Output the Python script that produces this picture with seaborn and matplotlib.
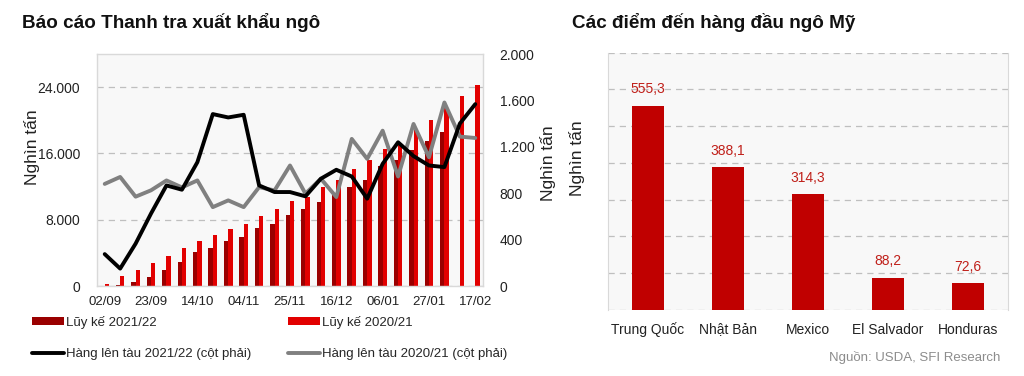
import numpy as np
import pandas as pd
import matplotlib
matplotlib.use("Agg")
import matplotlib.pyplot as plt
from matplotlib.patches import Patch
from matplotlib.lines import Line2D
import seaborn as sns

# ---------------- data ----------------
weeks = ["02/09", "09/09", "16/09", "23/09", "30/09", "07/10", "14/10", "21/10", "28/10",
         "04/11", "11/11", "18/11", "25/11", "02/12", "09/12", "16/12", "23/12", "30/12",
         "06/01", "13/01", "20/01", "27/01", "03/02", "10/02", "17/02"]
cum_2122 = [0, 100, 500, 1130, 1950, 2930, 4060, 4620, 5430, 5950, 6960, 7520, 8600, 9330,
            10090, 11000, 12000, 12850, 14500, 15200, 16400, 17500, 18550, np.nan, np.nan]
cum_2021 = [200, 1200, 1950, 2750, 3640, 4540, 5430, 6110, 6850, 7520, 8400, 9250, 10200, 10770,
            12000, 12780, 14070, 15200, 16560, 17000, 18800, 20020, 21500, 22950, 24240]
ship_2122 = [275, 150, 365, 625, 867, 830, 1067, 1482, 1453, 1476, 867, 810, 810, 773,
             925, 1002, 944, 753, 1053, 1239, 1120, 1039, 1025, 1400, 1568]
ship_2021 = [880, 940, 770, 825, 910, 850, 910, 680, 738, 680, 852, 824, 1039, 796,
             925, 767, 1268, 1096, 1339, 944, 1397, 1110, 1582, 1288, 1276]
series_names = ["Lũy kế 2021/22", "Lũy kế 2020/21",
                "Hàng lên tàu 2021/22 (cột phải)", "Hàng lên tàu 2020/21 (cột phải)"]
left_ticks = [0, 8000, 16000, 24000]
left_tick_labels = ["0", "8.000", "16.000", "24.000"]
right_ticks = [0, 400, 800, 1200, 1600, 2000]
right_tick_labels = ["0", "400", "800", "1.200", "1.600", "2.000"]

countries = ["Trung Quốc", "Nhật Bản", "Mexico", "El Salvador", "Honduras"]
dest_values = [555.3, 388.1, 314.3, 88.2, 72.6]
dest_labels = ["555,3", "388,1", "314,3", "88,2", "72,6"]

title_left = "Báo cáo Thanh tra xuất khẩu ngô"
title_right = "Các điểm đến hàng đầu ngô Mỹ"
unit = "Nghìn tấn"
source = "Nguồn: USDA, SFI Research"

# ---------------- style ----------------
sns.set_theme(style="white")
plt.rcParams["font.family"] = ["Liberation Sans", "DejaVu Sans"]

DARK = "#9A0000"
RED = "#E20000"
BAR3 = "#C00000"
BG = "#F8F8F8"
EDGE = "#D9D9D9"
GRID = "#BFBFBF"
TXT = "#222222"

W, H = 1024, 376
fig = plt.figure(figsize=(W / 100, H / 100), dpi=100)
fig.patch.set_facecolor("white")

def box(l, t, r, b):
    return [l / W, 1 - b / H, (r - l) / W, (b - t) / H]

# ---------------- left chart ----------------
ax = fig.add_axes(box(97, 54, 483, 286))
ax.set_facecolor(BG)
df = pd.DataFrame({
    "week": weeks * 2,
    "value": list(cum_2122) + list(cum_2021),
    "series": [series_names[0]] * len(weeks) + [series_names[1]] * len(weeks),
})
sns.barplot(data=df, x="week", y="value", hue="series", order=weeks,
            hue_order=series_names[:2], palette=[DARK, RED], saturation=1,
            width=0.56, ax=ax, legend=False, errorbar=None, linewidth=0)
ax.set_xlim(-0.5, len(weeks) - 0.5)
ax.set_ylim(0, 28000)
ax.set_yticks(left_ticks)
ax.set_yticklabels(left_tick_labels)
ax.set_xticks(range(0, len(weeks), 3))
ax.set_xticklabels(weeks[::3])
ax.set_xlabel("")
ax.set_ylabel(unit, fontsize=12.5, color=TXT)
ax.yaxis.set_label_coords(-0.148, 0.6)
ax.tick_params(axis="y", length=0, pad=12, labelsize=10, colors=TXT)
ax.tick_params(axis="x", length=0, pad=7, labelsize=9.5, colors=TXT)
ax.yaxis.grid(True, linestyle=(0, (5, 4)), color=GRID, linewidth=0.9)
ax.xaxis.grid(False)
ax.set_axisbelow(True)
for s in ax.spines.values():
    s.set_color(EDGE)
    s.set_linewidth(1.0)

ax2 = ax.twinx()
xpos = np.arange(len(weeks))
sns.lineplot(x=xpos, y=ship_2021, ax=ax2, color="#808080", linewidth=2.8, legend=False)
sns.lineplot(x=xpos, y=ship_2122, ax=ax2, color="#000000", linewidth=2.8, legend=False)
for l in ax2.lines:
    l.set_solid_joinstyle("round")
    l.set_solid_capstyle("round")
ax2.set_ylim(0, 2000)
ax2.set_yticks(right_ticks)
ax2.set_yticklabels(right_tick_labels)
ax2.set_ylabel(unit, fontsize=12.5, color=TXT)
ax2.yaxis.set_label_coords(1.148, 0.53)
ax2.tick_params(axis="y", length=0, pad=12, labelsize=10, colors=TXT)
ax2.grid(False)
for s in ax2.spines.values():
    s.set_visible(False)
ax2.set_xlim(-0.5, len(weeks) - 0.5)

handles = [
    Patch(facecolor=DARK, edgecolor="none"),
    Line2D([0], [0], color="#000000", linewidth=2.8),
    Patch(facecolor=RED, edgecolor="none"),
    Line2D([0], [0], color="#808080", linewidth=2.8),
]
labels = [series_names[0], series_names[2], series_names[1], series_names[3]]
fig.legend(handles, labels, ncol=2, loc="upper left", bbox_to_anchor=(32 / W, 1 - 316 / H),
           frameon=False, fontsize=9.5, handlelength=2.4, handleheight=0.55,
           handletextpad=0.2, columnspacing=2.75, labelspacing=1.45, borderaxespad=0,
           borderpad=0)

fig.text(22 / W, 1 - 22 / H, title_left, fontsize=13.6, fontweight="bold", color="#111111",
         ha="left", va="center")

# ---------------- right chart ----------------
ax3 = fig.add_axes(box(607.7, 52.7, 1008, 310))
ax3.set_facecolor(BG)
sns.barplot(x=countries, y=dest_values, color=BAR3, saturation=1, width=0.4, ax=ax3,
            errorbar=None, linewidth=0)
ax3.set_ylim(0, 700)
ax3.set_yticks(np.arange(0, 701, 100))
ax3.set_yticklabels([])
ax3.yaxis.grid(True, linestyle=(0, (5, 4)), color=GRID, linewidth=0.9)
ax3.xaxis.grid(False)
ax3.set_axisbelow(True)
ax3.tick_params(axis="both", length=0)
ax3.tick_params(axis="x", pad=9, labelsize=10, colors=TXT)
ax3.set_ylabel(unit, fontsize=12.5, color=TXT)
ax3.yaxis.set_label_coords(-0.056, 0.59)
for s in ax3.spines.values():
    s.set_color(EDGE)
    s.set_linewidth(0.8)
ax3.spines["top"].set_visible(False)
ax3.spines["bottom"].set_visible(False)
for i, (v, lab) in enumerate(zip(dest_values, dest_labels)):
    ax3.annotate(lab, xy=(i, v), xytext=(0, 12), textcoords="offset points",
                 ha="center", va="center", fontsize=10, color="#C0201A")

fig.text(572 / W, 1 - 22 / H, title_right, fontsize=13.6, fontweight="bold", color="#111111",
         ha="left", va="center")
fig.text(1000 / W, 1 - 357 / H, source, fontsize=9.5, color="#8C8C8C", ha="right", va="center")

fig.savefig("out.png", dpi=100, facecolor="white")
